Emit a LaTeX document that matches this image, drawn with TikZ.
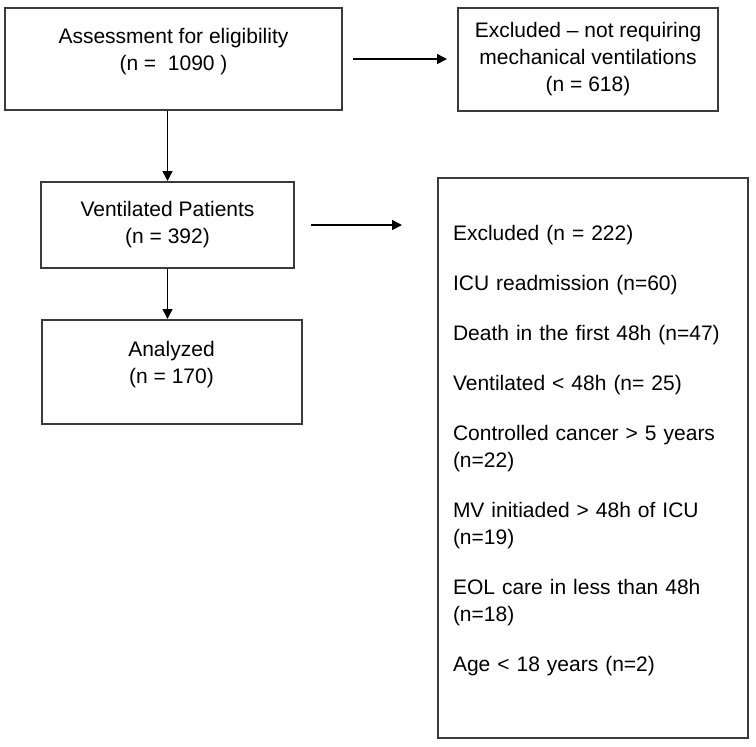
\documentclass[tikz,border=0pt]{standalone}
\usepackage{fontspec}
\setmainfont{Liberation Sans}
\usetikzlibrary{positioning,arrows.meta}
\definecolor{boxline}{HTML}{3A3A3A}
\tikzstyle{box} = [draw=boxline,line width=1pt,rectangle,align=center,inner sep=0pt]
\tikzstyle{edge} = [draw,line width=0.75pt,-{Triangle[length=5pt,width=5pt]}]
\newcommand{\itemgap}{\\[11.5pt]}

\begin{document}
\begin{tikzpicture}[on grid,font=\fontsize{10.5}{13.5}\selectfont]
   \useasboundingbox (0,0) rectangle (378pt,-373pt);

   \node[box,minimum width=168.5pt,minimum height=51pt,text depth=10pt] (assess) at (86.75pt,-29.5pt) {Assessment for eligibility\\(n = \ 1090 )};
   \node[box,minimum width=130pt,minimum height=51.5pt] (excl) [right=207.25pt of assess] {Excluded – not requiring\\mechanical ventilations\\(n = 618)};
   \node[box,minimum width=126.5pt,minimum height=43pt] (vent) [below=83pt of assess,xshift=-3pt] {Ventilated Patients\\(n = 392)};
   \node[box,minimum width=130pt,minimum height=52pt,text depth=10pt] (anal) [below=73.5pt of vent,xshift=2pt] {Analyzed\\(n = 170)};
   \node[box,align=left,text width=140pt,inner xsep=7.5pt,minimum height=280pt,text height=31pt,text depth=249pt] (reasons) [below right=116.5pt and 212.75pt of vent]
      {Excluded (n = 222)\itemgap
       ICU readmission (n=60)\itemgap
       Death in the first 48h (n=47)\itemgap
       Ventilated < 48h (n= 25)\itemgap
       Controlled cancer > 5 years\\(n=22)\itemgap
       MV initiaded > 48h of ICU\\(n=19)\itemgap
       EOL care in less than 48h\\(n=18)\itemgap
       Age < 18 years (n=2)};

   \path[edge,shorten <=5pt,shorten >=5pt] (assess) -- (excl);
   \path[edge] (assess.south -| vent) -- (vent);
   \path[edge] (vent) -- (anal.north -| vent);
   \path[edge,shorten <=8pt,shorten >=17.5pt] (vent.east) -- (vent.east -| reasons.west);

\end{tikzpicture}
\end{document}
